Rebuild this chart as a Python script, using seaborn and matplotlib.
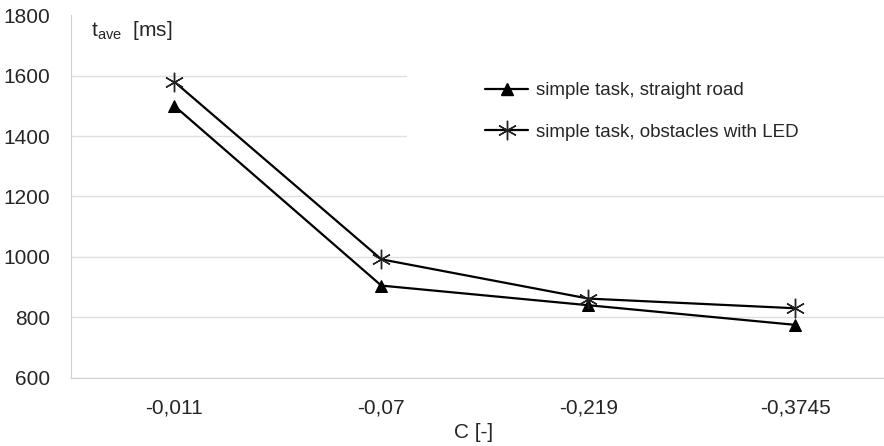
import pandas as pd
import matplotlib.pyplot as plt
import matplotlib.transforms as mtransforms
from matplotlib.patches import Rectangle
from matplotlib.lines import Line2D
from matplotlib.ticker import FixedLocator
import seaborn as sns

# Dados
categorias = ['-0,011', '-0,07', '-0,219', '-0,3745']
serie_reta = [1500, 905, 840, 775]
serie_obstaculos = [1580, 992, 862, 830]
nome_reta = 'simple task, straight road'
nome_obst = 'simple task, obstacles with LED'
y_ticks = [600, 800, 1000, 1200, 1400, 1600, 1800]

df_reta = pd.DataFrame({'C': categorias, 't': serie_reta})
df_obst = pd.DataFrame({'C': categorias, 't': serie_obstaculos})

sns.set_style('white')
plt.rcParams['font.family'] = ['Liberation Sans', 'DejaVu Sans']
plt.rcParams['font.size'] = 15

fig = plt.figure(figsize=(8.84, 4.46), dpi=100)
ax = fig.add_axes([0.080, 0.153, 0.937, 0.813])

estrela = (6, 2, 0)
sns.lineplot(data=df_reta, x='C', y='t', color='black', marker='^',
             markersize=9, markeredgecolor='black', linewidth=1.6,
             ax=ax, sort=False, zorder=3)
sns.lineplot(data=df_obst, x='C', y='t', color='black', marker=estrela,
             markersize=14, markeredgecolor='#222222', markeredgewidth=1.0,
             linewidth=1.6, ax=ax, sort=False, zorder=3)

ax.set_xlim(-0.5, 3.5)
ax.set_ylim(600, 1800)
ax.set_yticks(y_ticks)
ax.yaxis.grid(True, color='#e0e0e0', linewidth=1.0)
ax.set_axisbelow(True)
ax.yaxis.get_gridlines()[-1].set_visible(False)

# marcas do eixo x entre as categorias
ax.xaxis.set_minor_locator(FixedLocator([-0.5, 0.5, 1.5, 2.5, 3.5]))
ax.tick_params(axis='x', which='major', length=0, pad=15, labelsize=15)
ax.tick_params(axis='x', which='minor', length=6, color='#d0d0d0', width=1)
ax.tick_params(axis='y', length=7, color='#d0d0d0', width=1, pad=8, labelsize=15)

for lado in ['top', 'right']:
    ax.spines[lado].set_visible(False)
ax.spines['left'].set_color('#d0d0d0')
ax.spines['bottom'].set_color('#d0d0d0')

ax.set_ylabel('')
ax.set_xlabel('C [-]', fontsize=15)
ax.xaxis.set_label_coords(0.486, -0.125)
ax.text(0.025, 0.99, r't$_{\mathregular{ave}}$  [ms]', transform=ax.transAxes,
        fontsize=15, va='top', ha='left')

# fundo branco da legenda (cobre as linhas de grade)
trans = mtransforms.blended_transform_factory(ax.transAxes, ax.transData)
ax.add_patch(Rectangle((0.406, 1330), 0.6, 370, transform=trans,
                       facecolor='white', edgecolor='none', zorder=1))

handles = [
    Line2D([], [], color='black', marker='^', markersize=9, linewidth=1.6),
    Line2D([], [], color='black', marker=estrela, markersize=14,
           markeredgewidth=1.0, markeredgecolor='#222222', linewidth=1.6),
]
ax.legend(handles, [nome_reta, nome_obst], loc='upper left',
          bbox_to_anchor=(0.48, 0.862), frameon=False, fontsize=13.5,
          handlelength=2.3, handletextpad=0.4, labelspacing=1.3)

fig.savefig('out.png', dpi=100)
